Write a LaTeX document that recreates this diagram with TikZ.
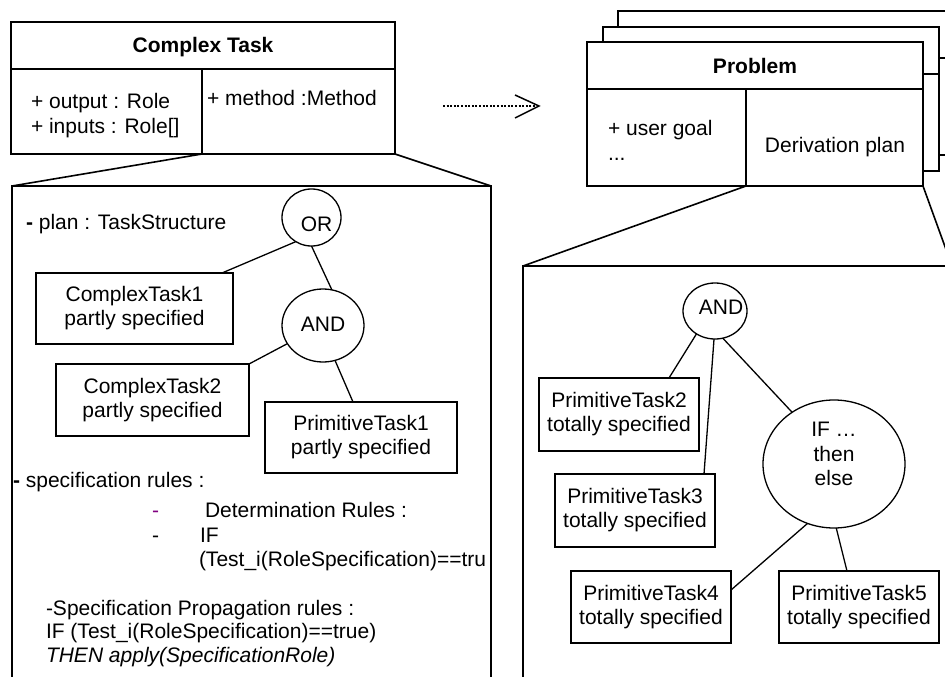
\documentclass[tikz,border=0pt]{standalone}
\usepackage{fontspec}
\setmainfont{Liberation Sans}
\usetikzlibrary{shapes.geometric,calc}
\definecolor{dashpurple}{RGB}{128,0,128}
\begin{document}
\begin{tikzpicture}[x=1pt,y=-1pt,
  every node/.style={font=\fontsize{21}{24}\selectfont, inner sep=0pt, outer sep=0pt},
  umlbox/.style={draw, line width=1.5pt, rectangle, fill=white},
  taskbox/.style={draw, line width=1.5pt, rectangle, align=center},
  gate/.style={draw, line width=1.3pt, ellipse},
  link/.style={line width=1.3pt},
  frame/.style={line width=1.6pt},
  txt/.style={anchor=base west}]
\useasboundingbox (0,0) rectangle (945,677);
\clip (0,0) rectangle (945,677);

% ---------- Complex Task class ----------
\node[umlbox, minimum width=384pt, minimum height=47pt] (cthead) at (203,45.5) {};
\node[anchor=base] (cttitle) at (203,53) {\bfseries Complex Task};
\node[umlbox, minimum width=191pt, minimum height=85pt] (ctattr) at (106.5,111.5) {};
\node[umlbox, minimum width=193pt, minimum height=85pt] (ctmeth) at (298.5,111.5) {};
\node[txt] (ctout) at (31,108) {+ output : Role};
\node[txt] (ctin) at (31,133) {+ inputs : Role[]};
\node[txt] (ctm) at (207,106) {+ method :Method};

% ---------- dotted arrow ----------
\coordinate (arrA) at (443,106);
\coordinate (arrB) at (539,106);
\draw[line width=1.5pt, dash pattern=on 2pt off 1.6pt] (arrA) -- (arrB);
\draw[line width=1.5pt] ([xshift=-24pt,yshift=11pt]arrB) -- (arrB) -- ([xshift=-24pt,yshift=-12pt]arrB);

% ---------- Problem class (stacked) ----------
\node[umlbox, minimum width=340pt, minimum height=144pt, anchor=north west] (pb3) at (618,11) {};
\draw[line width=1.5pt] ([yshift=-47pt]pb3.north west) -- ([yshift=-47pt]pb3.north east);
\node[umlbox, minimum width=336pt, minimum height=144pt, anchor=north west] (pb2) at (603,27) {};
\draw[line width=1.5pt] ([yshift=-47pt]pb2.north west) -- ([yshift=-47pt]pb2.north east);
\node[umlbox, minimum width=336pt, minimum height=47pt] (pbhead) at (755,65.5) {};
\node[anchor=base] (pbtitle) at (755,74) {\bfseries Problem};
\node[umlbox, minimum width=159pt, minimum height=97pt] (pbattr) at (666.5,137.5) {};
\node[umlbox, minimum width=177pt, minimum height=97pt] (pbder) at (834.5,137.5) {};
\node[txt] (pbgoal) at (608,135) {+ user goal};
\node[txt] (pbdots) at (608,160) {...};
\node[anchor=base] (pbplan) at (835,152) {Derivation plan};

% ---------- left expansion frame ----------
\coordinate (lbtl) at (12,186);
\coordinate (lbtr) at (491,186);
\coordinate (lbbl) at (12,682);
\coordinate (lbbr) at (491,682);
\draw[frame] (lbbl) -- (lbtl) -- (lbtr) -- (lbbr);
\draw[frame] (ctattr.south east) -- (lbtl);
\draw[frame] (ctmeth.south east) -- (lbtr);

% ---------- right expansion frame ----------
\coordinate (rbtl) at (523,266);
\coordinate (rbtr) at (952,266);
\coordinate (rbbl) at (523,682);
\draw[frame] (rbbl) -- (rbtl) -- (rbtr);
\draw[frame] (pbattr.south east) -- (rbtl);
\draw[frame] (pbder.south east) -- (rbtr);

% ---------- left tree ----------
\node[txt] (plan) at (26,229) {\textbf{-} plan : TaskStructure};
\node[gate, minimum width=59pt, minimum height=57pt] (or) at (311.5,217.5) {};
\node[anchor=base] (ortxt) at (316.5,231) {OR};
\node[gate, minimum width=82pt, minimum height=73pt] (and1) at (323,325.5) {};
\node[anchor=base] (and1txt) at (323,331) {AND};
\node[taskbox, minimum width=197pt, minimum height=71pt] (ct1) at (134.5,308.5) {ComplexTask1\\partly specified};
\node[taskbox, minimum width=193pt, minimum height=72pt] (ct2) at (152.5,400) {ComplexTask2\\partly specified};
\node[taskbox, minimum width=192pt, minimum height=71pt] (pt1) at (361,437.5) {PrimitiveTask1\\partly specified};
\draw[link] (or.237) -- ([xshift=-11pt]ct1.north east);
\draw[link] (or.270) -- (and1.76);
\draw[link] (and1.207) -- (ct2.north east);
\draw[link] (and1.289) -- ([xshift=88pt]pt1.north west);

% ---------- rules text ----------
\node[txt] (specr) at (13,487) {\textbf{-} specification rules :};
\node[txt] (dash1) at (152,517) {\textcolor{dashpurple}{-}};
\node[txt] (detr) at (205,517) {Determination Rules :};
\node[txt] (dash2) at (152,542) {-};
\node[txt] (if1) at (200,542) {IF};
\node[txt] (test1) at (199,566) {(Test\_i(RoleSpecification)==tru};
\node[txt] (propr) at (46,615) {-Specification Propagation rules :};
\node[txt] (if2) at (46,638) {IF (Test\_i(RoleSpecification)==true)};
\node[txt] (then2) at (46,662) {\itshape THEN apply(SpecificationRole)};

% ---------- right tree ----------
\node[gate, minimum width=64pt, minimum height=56pt] (and2) at (715,311) {};
\node[anchor=base] (and2txt) at (721,314) {AND};
\node[gate, minimum width=142pt, minimum height=128pt] (ifn) at (834,464) {};
\node[align=center, font=\fontsize{21}{24.5}\selectfont] (iftxt) at (834,454) {IF …\\then\\else};
\node[taskbox, minimum width=160pt, minimum height=73pt] (pt2) at (619,414.5) {PrimitiveTask2\\totally specified};
\node[taskbox, minimum width=160pt, minimum height=73pt] (pt3) at (635,510.5) {PrimitiveTask3\\totally specified};
\node[taskbox, minimum width=160pt, minimum height=72pt] (pt4) at (651,607) {PrimitiveTask4\\totally specified};
\node[taskbox, minimum width=160pt, minimum height=72pt] (pt5) at (859,607) {PrimitiveTask5\\totally specified};
\draw[link] (and2.231) -- ([xshift=130pt]pt2.north west);
\draw[link] (and2.268) -- ([xshift=-11pt]pt3.north east);
\draw[link] (and2.286) -- (ifn.129);
\draw[link] (ifn.246) -- ([yshift=-19pt]pt4.north east);
\draw[link] (ifn.272) -- ([xshift=68pt]pt5.north west);
\end{tikzpicture}
\end{document}
